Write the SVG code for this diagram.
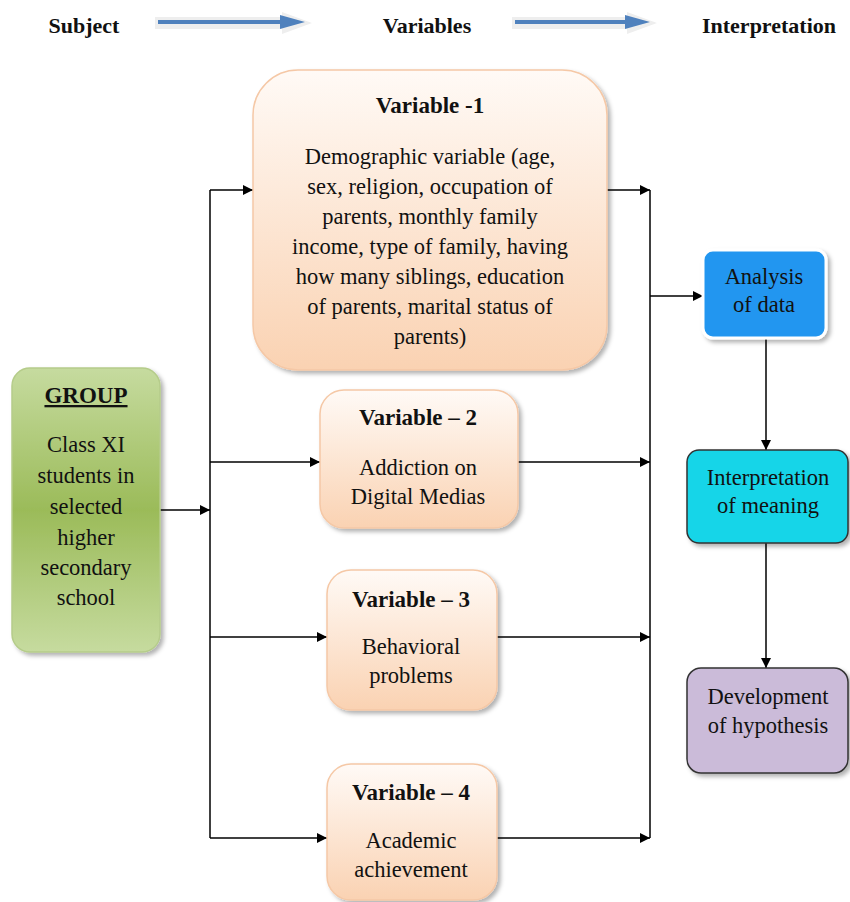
<svg xmlns="http://www.w3.org/2000/svg" width="850" height="902" viewBox="0 0 850 902">
<defs>
<linearGradient id="peach" x1="0" y1="0" x2="0" y2="1">
<stop offset="0" stop-color="#fffaf6"/>
<stop offset="1" stop-color="#fad2b2"/>
</linearGradient>
<linearGradient id="green" x1="0" y1="0" x2="0" y2="1">
<stop offset="0" stop-color="#c6db9f"/>
<stop offset="0.5" stop-color="#9bbb59"/>
<stop offset="1" stop-color="#c6db9f"/>
</linearGradient>
<filter id="sh" x="-10%" y="-10%" width="125%" height="125%">
<feDropShadow dx="3" dy="3" stdDeviation="2" flood-color="#000" flood-opacity="0.3"/>
</filter>
<marker id="ah" viewBox="0 0 10 10" refX="10" refY="5" markerWidth="10" markerHeight="10" markerUnits="userSpaceOnUse" orient="auto">
<path d="M0,0 L10,5 L0,10 z" fill="#000"/>
</marker>
</defs>
<style>
text{font-family:"Liberation Serif","Times New Roman",serif;font-size:22.5px;fill:#111;text-anchor:middle}
.b{font-weight:bold;font-size:23px}
.h{font-weight:bold;font-size:22px}
.var{fill:url(#peach);stroke:#f5c8a6;stroke-width:1.5;filter:url(#sh)}
.con{stroke:#000;stroke-width:1.5;fill:none}
.ca{stroke:#000;stroke-width:1.5;fill:none;marker-end:url(#ah)}
</style>
<g id="header">
<text class="h" x="84" y="33">Subject</text>
<text class="h" x="427" y="33">Variables</text>
<text class="h" x="769" y="33">Interpretation</text>
<path d="M155,17 H282 V12 L312,23 L282,34 V29 H155 z" fill="#eeeeee"/>
<path d="M158,20 H280 V15 L305,22 L280,29 V24 H158 z" fill="#4f81bd"/>
<path d="M512,17 H627 V12 L657,23 L627,34 V29 H512 z" fill="#eeeeee"/>
<path d="M515,20 H625 V15 L650,22 L625,29 V24 H515 z" fill="#4f81bd"/>
</g>
<g id="connectors">
<path class="ca" d="M160,510 H210"/>
<path class="con" d="M210,190 V838"/>
<path class="ca" d="M210,190 H253"/>
<path class="ca" d="M210,462 H320"/>
<path class="ca" d="M210,637 H327"/>
<path class="ca" d="M210,838 H327"/>
<path class="con" d="M650,190 V838"/>
<path class="ca" d="M607,190 H650"/>
<path class="ca" d="M518,462 H650"/>
<path class="ca" d="M497,637 H650"/>
<path class="ca" d="M497,838 H650"/>
<path class="ca" d="M650,296 H703"/>
<path class="ca" d="M766,338 V450"/>
<path class="ca" d="M766,543 V668"/>
</g>
<g id="group">
<rect x="12" y="368" width="148" height="284" rx="18" fill="url(#green)" stroke="#b5cc8a" stroke-width="1.5" filter="url(#sh)"/>
<text class="b" x="86" y="403" text-decoration="underline">GROUP</text>
<text x="86" y="452">Class XI</text>
<text x="86" y="483">students in</text>
<text x="86" y="514">selected</text>
<text x="86" y="545">higher</text>
<text x="86" y="575">secondary</text>
<text x="86" y="605">school</text>
</g>
<g id="var1">
<rect class="var" x="253" y="70" width="354" height="300" rx="45"/>
<text class="b" x="430" y="113">Variable -1</text>
<text x="430" y="164">Demographic variable (age,</text>
<text x="430" y="194">sex, religion, occupation of</text>
<text x="430" y="224">parents, monthly family</text>
<text x="430" y="254">income, type of family, having</text>
<text x="430" y="284">how many siblings, education</text>
<text x="430" y="314">of parents, marital status of</text>
<text x="430" y="344">parents)</text>
</g>
<g id="var2">
<rect class="var" x="320" y="390" width="198" height="138" rx="24"/>
<text class="b" x="418" y="425">Variable – 2</text>
<text x="418" y="475">Addiction on</text>
<text x="418" y="504">Digital Medias</text>
</g>
<g id="var3">
<rect class="var" x="327" y="570" width="170" height="140" rx="24"/>
<text class="b" x="411" y="607">Variable – 3</text>
<text x="411" y="654">Behavioral</text>
<text x="411" y="683">problems</text>
</g>
<g id="var4">
<rect class="var" x="327" y="764" width="170" height="136" rx="24"/>
<text class="b" x="411" y="800">Variable – 4</text>
<text x="411" y="848">Academic</text>
<text x="411" y="877">achievement</text>
</g>
<g id="analysis">
<rect x="703" y="250" width="123" height="88" rx="10" fill="#2196f0" stroke="#fff" stroke-width="3" filter="url(#sh)"/>
<text x="764" y="284">Analysis</text>
<text x="764" y="312">of data</text>
</g>
<g id="interp">
<rect x="687" y="450" width="161" height="93" rx="12" fill="#14d5e8" stroke="#333" stroke-width="1.5" filter="url(#sh)"/>
<text x="768" y="485">Interpretation</text>
<text x="768" y="513">of meaning</text>
</g>
<g id="develop">
<rect x="687" y="668" width="161" height="105" rx="14" fill="#cbbbd9" stroke="#333" stroke-width="1.5" filter="url(#sh)"/>
<text x="768" y="704">Development</text>
<text x="768" y="733">of hypothesis</text>
</g>
</svg>
